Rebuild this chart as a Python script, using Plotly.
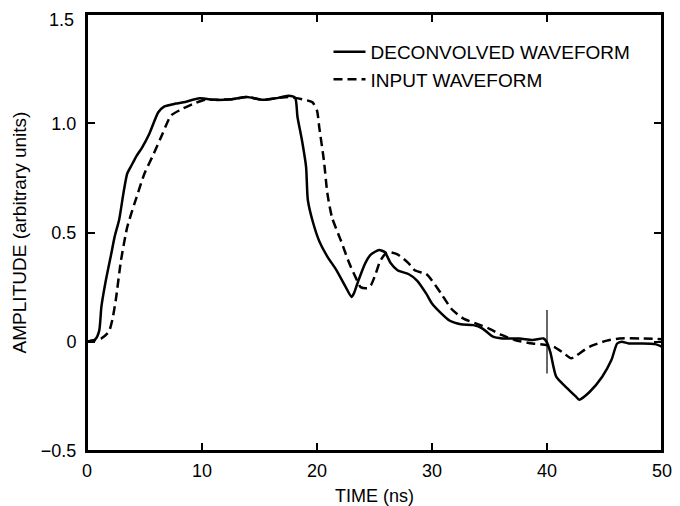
import plotly.graph_objects as go

# Deconvolved waveform (solid)
t_deconv = [0, 0.7, 1.06, 1.25, 1.6, 2.1, 2.4, 2.8, 3.2, 3.5, 3.9, 4.3, 4.8, 5.4, 6.2, 6.7, 7.7, 8.4,
            9.8, 11.1, 12.6, 13.9, 15.3, 16.4, 17.5, 18.1, 18.3, 18.7, 19.05, 19.2, 19.6, 20.2, 20.9,
            21.7, 22.5, 23.0, 23.2, 23.6, 24.2, 24.7, 25.4, 25.9, 26.4, 27.0, 27.95, 28.7, 29.5, 30.0,
            30.8, 31.55, 32.5, 33.6, 34.4, 35.3, 36.1, 37.6, 38.75, 39.7, 39.96, 40.3, 40.8, 41.6,
            42.5, 42.8, 43.7, 44.8, 45.6, 46.1, 46.5, 47.1, 48.2, 49.4, 50]
v_deconv = [0, 0.01, 0.05, 0.16, 0.27, 0.40, 0.48, 0.56, 0.69, 0.77, 0.81, 0.85, 0.89, 0.95, 1.05, 1.076,
            1.09, 1.096, 1.114, 1.107, 1.11, 1.12, 1.107, 1.114, 1.126, 1.116, 1.03, 0.92, 0.80, 0.65,
            0.556, 0.46, 0.39, 0.327, 0.25, 0.205, 0.22, 0.28, 0.36, 0.40, 0.42, 0.41, 0.36, 0.327,
            0.31, 0.28, 0.22, 0.175, 0.13, 0.096, 0.08, 0.076, 0.06, 0.023, 0.015, 0.015, 0.008, 0.015,
            0.0, -0.05, -0.16, -0.205, -0.25, -0.265, -0.23, -0.16, -0.084, -0.008, 0.0, -0.008,
            -0.008, -0.011, -0.023]

# Input waveform (dashed)
t_input = [0, 1.25, 1.9, 2.2, 2.5, 2.95, 3.5, 4.3, 5.0, 5.8, 6.55, 7.3, 8.07, 9.2, 10.3, 11.1, 12.6,
           13.9, 15.3, 16.4, 17.5, 18.7, 19.6, 20.0, 20.2, 20.6, 20.9, 21.3, 22.1, 22.8, 23.4, 23.8,
           24.4, 24.7, 25.1, 25.5, 26.1, 27.0, 27.95, 28.5, 29.5, 30.0, 30.8, 31.7, 32.7, 33.8, 34.96,
           36.1, 37.2, 38.75, 39.96, 40.6, 41.4, 42.1, 42.5, 43.7, 45.2, 46.3, 48.2, 50]
v_input = [0, 0.015, 0.046, 0.10, 0.19, 0.37, 0.525, 0.66, 0.77, 0.86, 0.95, 1.035, 1.06, 1.088, 1.108,
           1.107, 1.11, 1.12, 1.107, 1.114, 1.12, 1.11, 1.096, 1.058, 0.98, 0.83, 0.68, 0.57, 0.46,
           0.36, 0.29, 0.25, 0.245, 0.26, 0.31, 0.37, 0.41, 0.40, 0.36, 0.327, 0.31, 0.28, 0.22, 0.15,
           0.107, 0.084, 0.06, 0.03, 0.008, -0.008, -0.015, -0.023, -0.05, -0.076, -0.065, -0.023,
           0.005, 0.015, 0.015, 0.012]

# Vertical marker at 40 ns
marker_t = [40, 40]
marker_v = [0.145, -0.145]

x_tickvals = [0, 10, 20, 30, 40, 50]
x_ticktext = ["0", "10", "20", "30", "40", "50"]
y_tickvals = [-0.5, 0, 0.5, 1.0, 1.5]
y_ticktext = ["\u22120.5", "0", "0.5", "1.0", "1.5"]

FONT = "Liberation Sans, Arial, sans-serif"

fig = go.Figure()
fig.add_trace(go.Scatter(x=t_deconv, y=v_deconv, mode="lines", name="DECONVOLVED WAVEFORM",
                         line=dict(color="black", width=2.5, shape="spline", smoothing=0.6)))
fig.add_trace(go.Scatter(x=t_input, y=v_input, mode="lines", name="INPUT WAVEFORM",
                         line=dict(color="black", width=2.5, dash="9px,5px", shape="spline", smoothing=0.6)))
fig.add_trace(go.Scatter(x=marker_t, y=marker_v, mode="lines", showlegend=False,
                         line=dict(color="black", width=1.2)))

axis_common = dict(showline=True, linecolor="black", linewidth=2, mirror="ticks", ticks="inside",
                   ticklen=8, tickwidth=1.5, tickcolor="black", showgrid=False, zeroline=False,
                   automargin=False,
                   tickfont=dict(family=FONT, size=18, color="black"))

# the top y label is drawn as an annotation (slightly lowered, as in the original)
y_axis_ticktext = y_ticktext[:-1] + [""]

fig.update_xaxes(range=[0, 50], tickvals=x_tickvals, ticktext=x_ticktext, ticklabelstandoff=2,
                 title=dict(text="TIME (ns)", font=dict(family=FONT, size=18, color="black"), standoff=10),
                 **axis_common)
fig.update_yaxes(range=[-0.5, 1.5], tickvals=y_tickvals, ticktext=y_axis_ticktext, ticklabelstandoff=5,
                 title=dict(text="AMPLITUDE (arbitrary units)", font=dict(family=FONT, size=19, color="black"),
                            standoff=9),
                 **axis_common)

fig.add_annotation(x=0, xref="paper", y=y_tickvals[-1], yref="y", text=y_ticktext[-1],
                   showarrow=False, xanchor="right", yanchor="middle", xshift=-11, yshift=-6,
                   font=dict(family=FONT, size=18, color="black"))

# frame around the plotting area
fig.add_shape(type="rect", xref="paper", yref="paper", x0=0, x1=1, y0=0, y1=1,
              line=dict(color="black", width=2), layer="above")

fig.update_layout(
    width=672, height=498,
    margin=dict(l=79, r=18, t=6, b=55),
    plot_bgcolor="white", paper_bgcolor="white",
    font=dict(family=FONT, size=18, color="black"),
    xaxis2=dict(overlaying="x", side="top", range=[0, 50], tickvals=x_tickvals, showticklabels=False,
                ticks="inside", ticklen=8, tickwidth=1.5, tickcolor="black", showgrid=False,
                zeroline=False, showline=True, linecolor="black", linewidth=2, automargin=False),
    legend=dict(x=0.42, y=0.957, xanchor="left", yanchor="top", bgcolor="rgba(0,0,0,0)",
                font=dict(family=FONT, size=19, color="black"), itemwidth=32, tracegroupgap=0),
)

fig.write_html("out.html")
